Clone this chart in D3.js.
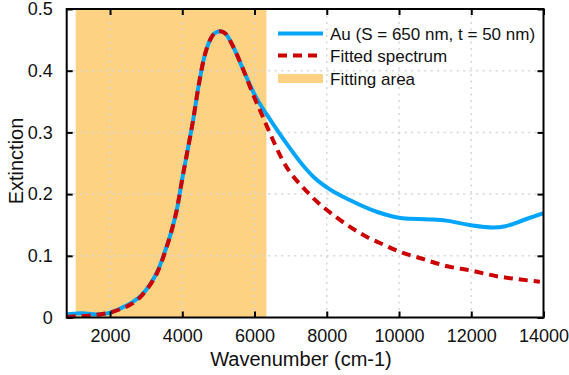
<!DOCTYPE html>
<html><head><meta charset="utf-8">
<script src="https://cdn.jsdelivr.net/npm/d3@7"></script>
<style>body{margin:0;background:#fff}svg{display:block}text{font-family:"Liberation Sans",Arial,sans-serif;fill:#111}</style>
</head><body><svg id="c" width="569" height="375"></svg>
<script>
const xTicks=[2000,4000,6000,8000,10000,12000,14000];
const yTicks=[0,0.1,0.2,0.3,0.4,0.5];
const fitArea=[1050,6330];
const auX=[800,1000,1200,1400,1600,1800,2000,2300,2600,2850,3100,3300,3550,3700,3850,4000,4150,4300,4450,4600,4770,4900,5050,5200,5400,5700,5970,6150,6350,6800,7350,7650,8000,8650,9400,10100,10850,11300,11950,12600,12950,13450,14000];
const auY=[0.005,0.006,0.007,0.006,0.005,0.0055,0.008,0.015,0.024,0.035,0.053,0.073,0.112,0.14,0.175,0.225,0.272,0.32,0.375,0.42,0.45,0.461,0.464,0.46,0.44,0.40,0.365,0.346,0.328,0.289,0.246,0.227,0.211,0.190,0.171,0.161,0.159,0.157,0.150,0.146,0.148,0.158,0.169];
const fitX=[800,1100,1400,1700,2000,2300,2600,2850,3100,3300,3550,3700,3850,4000,4150,4300,4450,4600,4770,4900,5050,5200,5400,5700,5970,6150,6350,6800,7500,8300,9100,9500,10000,10600,11300,12000,12700,13300,13900];
const fitY=[0.001,0.002,0.003,0.005,0.008,0.014,0.022,0.034,0.052,0.072,0.111,0.14,0.175,0.225,0.272,0.32,0.375,0.42,0.45,0.461,0.464,0.46,0.44,0.40,0.36,0.336,0.309,0.2525,0.201,0.161,0.131,0.120,0.107,0.096,0.0835,0.076,0.067,0.062,0.058];
const legendLabels=["Au (S = 650 nm, t = 50 nm)","Fitted spectrum","Fitting area"];
const blue="#03a5fb", red="#cc0000", orange="#fdd383";

const svg=d3.select("#c");
const L=66.7,R=543.5,T=9,B=317.5;
const x=d3.scaleLinear().domain([800,14000]).range([L,R]);
const y=d3.scaleLinear().domain([0,0.5]).range([B,T]);

svg.append("rect").attr("x",x(fitArea[0])).attr("y",T).attr("width",x(fitArea[1])-x(fitArea[0])).attr("height",B-T).attr("fill",orange);

const grid=svg.append("g").attr("stroke","#d6d6d6").attr("stroke-width",1.5).attr("stroke-dasharray","2,4.5");
xTicks.filter(d=>d<14000).forEach(d=>grid.append("line").attr("x1",x(d)).attr("x2",x(d)).attr("y1",T).attr("y2",B));
yTicks.filter(d=>d>0&&d<0.5).forEach(d=>grid.append("line").attr("y1",y(d)).attr("y2",y(d)).attr("x1",L).attr("x2",R));

const line=d3.line().x(d=>x(d[0])).y(d=>y(d[1])).curve(d3.curveMonotoneX);
svg.append("path").datum(auX.map((v,i)=>[v,auY[i]])).attr("d",line).attr("fill","none").attr("stroke",blue).attr("stroke-width",4);
svg.append("path").datum(fitX.map((v,i)=>[v,fitY[i]])).attr("d",line).attr("fill","none").attr("stroke",red).attr("stroke-width",4).attr("stroke-dasharray","9,6");

// axes
const ax=svg.append("g");
ax.append("g").attr("transform",`translate(0,${B})`).call(d3.axisBottom(x).tickValues(xTicks).tickSizeInner(-6).tickSizeOuter(0).tickPadding(12).tickFormat(d3.format("d")));
ax.append("g").attr("transform",`translate(0,${T})`).call(d3.axisTop(x).tickValues(xTicks).tickSizeInner(-6).tickSizeOuter(0).tickFormat(""));
ax.append("g").attr("transform",`translate(${L},0)`).call(d3.axisLeft(y).tickValues(yTicks).tickSizeInner(-6).tickSizeOuter(0).tickPadding(14).tickFormat(d=>d===0?"0":d3.format(".1f")(d)));
ax.append("g").attr("transform",`translate(${R},0)`).call(d3.axisRight(y).tickValues(yTicks).tickSizeInner(-6).tickSizeOuter(0).tickFormat(""));
ax.selectAll(".domain").remove();
ax.selectAll(".tick line").attr("stroke","#000").attr("stroke-width",2);
ax.selectAll(".tick text").attr("font-size",18).attr("fill","#111").attr("font-family","Liberation Sans, Arial, sans-serif");
svg.append("rect").attr("x",L).attr("y",T).attr("width",R-L).attr("height",B-T).attr("fill","none").attr("stroke","#000").attr("stroke-width",2);

svg.append("text").attr("x",301).attr("y",366).attr("text-anchor","middle").attr("font-size",20).text("Wavenumber (cm-1)");
svg.append("text").attr("transform","translate(23,161) rotate(-90)").attr("text-anchor","middle").attr("font-size",20).text("Extinction");

// legend
const lg=svg.append("g");
const rows=[33.5,55.5,78.5];
lg.append("line").attr("x1",278).attr("x2",323).attr("y1",rows[0]).attr("y2",rows[0]).attr("stroke",blue).attr("stroke-width",4);
lg.append("line").attr("x1",278).attr("x2",323).attr("y1",rows[1]).attr("y2",rows[1]).attr("stroke",red).attr("stroke-width",4).attr("stroke-dasharray","9,6");
lg.append("rect").attr("x",278).attr("width",45).attr("y",rows[2]-4.5).attr("height",9).attr("fill",orange);
legendLabels.forEach((t,i)=>lg.append("text").attr("x",330).attr("y",rows[i]+6).attr("font-size",17).text(t));
</script></body></html>
